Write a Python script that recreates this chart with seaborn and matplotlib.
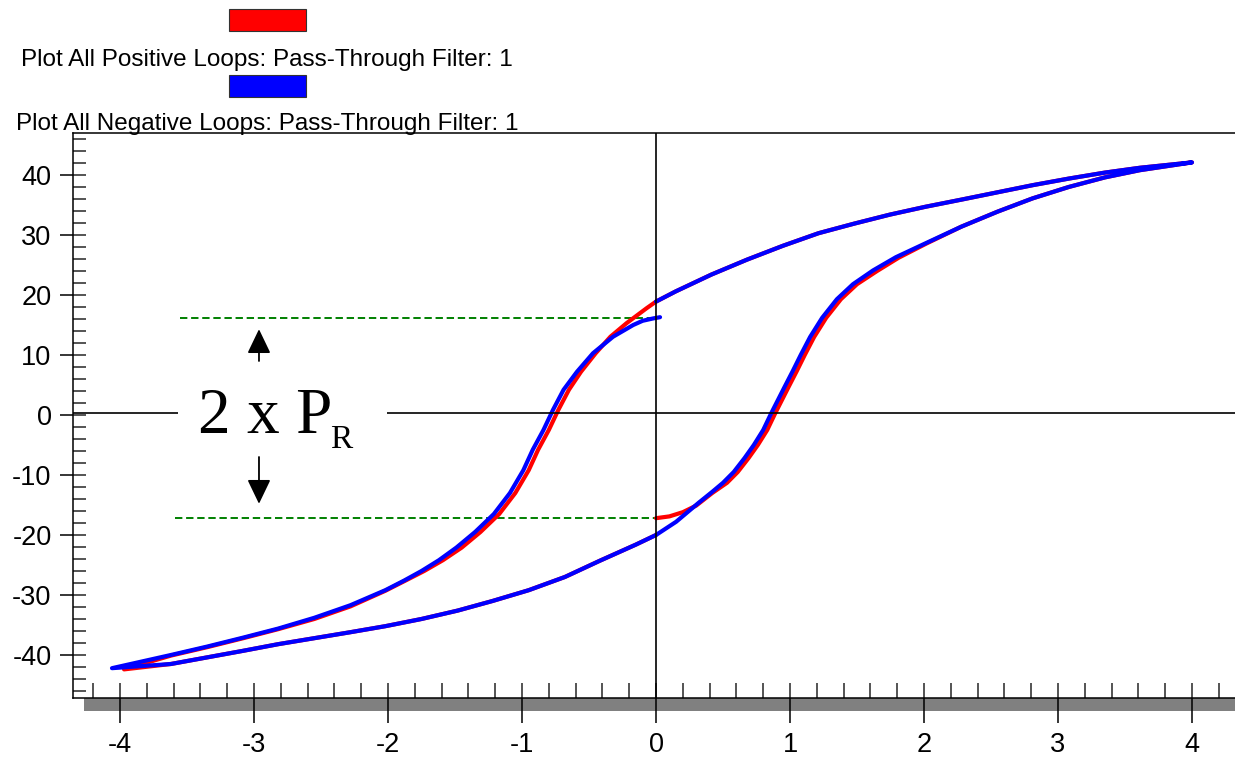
import matplotlib
matplotlib.use("Agg")
import matplotlib.pyplot as plt
from matplotlib.patches import Rectangle
from matplotlib.ticker import FixedLocator, MultipleLocator
import pandas as pd
import seaborn as sns

# ---- hysteresis branches: field E (V) vs polarization P (uC/cm^2) ----
# upper (descending) branch from +Emax back to E = 0, shared by both loops
upper_e = [4.0, 3.61, 3.35, 3.08, 2.81, 2.545, 2.28, 2.01, 1.746, 1.48, 1.213, 0.947, 0.68, 0.413, 0.147, 0.0]
upper_p = [42.1, 41.2, 40.4, 39.4, 38.3, 37.1, 35.9, 34.7, 33.4, 31.9, 30.3, 28.2, 25.9, 23.4, 20.6, 18.9]

# lower-left (ascending) branch from -Emax up to E = 0, shared by both loops
lowleft_e = [-4.06, -3.62, -3.35, -3.08, -2.82, -2.55, -2.28, -2.02, -1.75, -1.48, -1.22, -0.95, -0.68, -0.42, -0.15, 0.0]
lowleft_p = [-42.2, -41.5, -40.4, -39.3, -38.2, -37.2, -36.2, -35.2, -34.0, -32.6, -31.0, -29.2, -27.0, -24.3, -21.6, -20.0]

# positive loop: rising from the negative remanent state
pos_rise_e = [0.0, 0.10, 0.20, 0.30, 0.42, 0.53, 0.61, 0.69, 0.76, 0.83, 0.89, 0.94, 0.99, 1.05, 1.11, 1.18,
              1.27, 1.38, 1.50, 1.65, 1.81, 2.02, 2.28, 2.55, 2.81, 3.08, 3.35, 3.61, 4.0]
pos_rise_p = [-17.2, -16.9, -16.2, -15.1, -13.0, -11.3, -9.5, -7.2, -5.0, -2.5, 0.3, 2.5, 4.7, 7.3, 10.0, 13.0,
              16.2, 19.3, 21.8, 24.0, 26.2, 28.6, 31.4, 33.9, 36.1, 38.0, 39.6, 40.8, 42.1]
# positive loop: falling part past E = 0 down to -Emax
pos_fall_e = [-0.07, -0.22, -0.34, -0.45, -0.56, -0.65, -0.73, -0.80, -0.88, -0.95, -1.05, -1.17, -1.31, -1.45,
              -1.59, -1.73, -1.87, -2.02, -2.28, -2.55, -2.82, -3.08, -3.35, -3.62, -3.97]
pos_fall_p = [17.8, 15.3, 13.05, 10.3, 7.2, 4.2, 0.8, -2.5, -5.8, -9.2, -13.0, -16.5, -19.5, -22.1,
              -24.2, -26.0, -27.6, -29.3, -31.9, -34.0, -35.7, -37.2, -38.7, -40.1, -42.4]

# negative loop: falling from the positive remanent state
neg_fall_e = [0.03, -0.02, -0.10, -0.17, -0.32, -0.47, -0.59, -0.69, -0.77, -0.84, -0.92, -0.99, -1.09, -1.21,
              -1.35, -1.49, -1.62, -1.75, -1.88, -2.02, -2.28, -2.55, -2.82, -3.08, -3.35, -3.62, -4.06]
neg_fall_p = [16.3, 16.1, 15.7, 15.0, 13.05, 10.3, 7.2, 4.2, 0.8, -2.5, -5.8, -9.2, -13.0, -16.5,
              -19.5, -22.1, -24.2, -26.0, -27.6, -29.2, -31.7, -33.8, -35.6, -37.1, -38.6, -40.0, -42.2]
# negative loop: rising part past E = 0 up to +Emax
neg_rise_e = [0.15, 0.32, 0.42, 0.50, 0.58, 0.66, 0.73, 0.80, 0.86, 0.91, 0.96, 1.02, 1.08, 1.15, 1.24, 1.35,
              1.47, 1.62, 1.79, 2.01, 2.28, 2.55, 2.81, 3.08, 3.35, 3.61, 4.0]
neg_rise_p = [-17.8, -14.6, -12.8, -11.3, -9.5, -7.2, -5.0, -2.5, 0.3, 2.5, 4.7, 7.3, 10.0, 13.0, 16.2, 19.3,
              21.8, 24.1, 26.3, 28.6, 31.4, 33.9, 36.1, 38.0, 39.6, 40.8, 42.1]

# remanent polarization levels (+Pr / -Pr)
pr_levels = [16.2, -17.1]
pr_start = [-3.55, -3.59]

loop_names = ["Positive", "Negative"]
loop_colors = ["#ff0000", "#0000ff"]
legend_labels = ["Plot All Positive Loops: Pass-Through Filter: 1",
                 "Plot All Negative Loops: Pass-Through Filter: 1"]

x_ticks = [-4, -3, -2, -1, 0, 1, 2, 3, 4]
x_tick_labels = ["-4", "-3", "-2", "-1", "0", "1", "2", "3", "4"]
y_ticks = [-40, -30, -20, -10, 0, 10, 20, 30, 40]
y_tick_labels = ["-40", "-30", "-20", "-10", "0", "10", "20", "30", "40"]

# ---- assemble the two loops in drawing order ----
pos_e = pos_rise_e + upper_e[1:] + pos_fall_e + lowleft_e[1:]
pos_p = pos_rise_p + upper_p[1:] + pos_fall_p + lowleft_p[1:]
neg_e = neg_fall_e + lowleft_e[1:] + neg_rise_e + upper_e[1:]
neg_p = neg_fall_p + lowleft_p[1:] + neg_rise_p + upper_p[1:]

df = pd.DataFrame({
    "E": pos_e + neg_e,
    "P": pos_p + neg_p,
    "loop": [loop_names[0]] * len(pos_e) + [loop_names[1]] * len(neg_e),
})

sns.set_style("white")
plt.rcParams["font.family"] = ["Liberation Sans", "DejaVu Sans"]
plt.rcParams["axes.unicode_minus"] = False
plt.rcParams["lines.scale_dashes"] = False

W, H = 1235, 760
fig = plt.figure(figsize=(W / 100, H / 100), dpi=100)
fig.patch.set_facecolor("white")
ax = fig.add_axes([73 / W, 62 / H, (W - 73) / W, 565 / H])

sns.lineplot(data=df, x="E", y="P", hue="loop", hue_order=loop_names, palette=loop_colors,
             sort=False, estimator=None, lw=3.0, legend=False, ax=ax, zorder=3)
for line in ax.get_lines():
    line.set_solid_joinstyle("round")

ax.set_xlim(-4.351, 4.321)
ax.set_ylim(-47.17, 47.0)
ax.set_xlabel("")
ax.set_ylabel("")

# frame
for side in ("left", "top", "bottom"):
    ax.spines[side].set_visible(True)
    ax.spines[side].set_color("black")
    ax.spines[side].set_linewidth(1.1)
ax.spines["right"].set_visible(False)

# ticks
ax.xaxis.set_major_locator(FixedLocator(x_ticks))
ax.set_xticklabels(x_tick_labels)
ax.xaxis.set_minor_locator(MultipleLocator(0.2))
ax.yaxis.set_major_locator(FixedLocator(y_ticks))
ax.set_yticklabels(y_tick_labels)
ax.yaxis.set_minor_locator(MultipleLocator(2))
ax.xaxis.remove_overlapping_locs = False
ax.yaxis.remove_overlapping_locs = False
ax.tick_params(axis="x", which="major", direction="out", length=18, width=1.1, pad=6.5,
               labelsize=19.5, colors="black", bottom=True, top=False)
ax.tick_params(axis="x", which="minor", direction="in", length=11, width=1.1, bottom=True, top=False)
ax.tick_params(axis="y", which="major", direction="out", length=9.4, width=1.1, pad=6,
               labelsize=19.5, colors="black", left=True, right=False)
ax.tick_params(axis="y", which="minor", direction="in", length=9.4, width=1.1, left=True, right=False)

# grey base bar under the x axis
fig.patches.append(Rectangle((84 / W, (H - 711) / H), (W - 84) / W, 13 / H, transform=fig.transFigure,
                             facecolor="#808080", edgecolor="none", zorder=-1))

# origin cross-hair
ax.axhline(0.4, color="black", lw=1.2, zorder=4)
ax.axvline(0, color="black", lw=1.2, zorder=4)

# remanent polarization guides
for lvl, x0 in zip(pr_levels, pr_start):
    ax.plot([x0, 0], [lvl, lvl], color="#008000", lw=1.4, ls=(0, (5.3, 2.7)), zorder=2)

# 2 x Pr annotation
ax.add_patch(Rectangle((-3.567, -6.5), 1.56, 13.0, facecolor="white", edgecolor="none", zorder=5))
ax.text(-3.418, -3.0, "2 x P", fontfamily="Liberation Serif", fontsize=47, ha="left", va="baseline",
        color="black", zorder=6)
ax.text(-2.433, -5.5, "R", fontfamily="Liberation Serif", fontsize=24, ha="left", va="baseline",
        color="black", zorder=6)
arrow_style = dict(arrowstyle="-|>,head_length=0.75,head_width=0.36", color="black", lw=1.3,
                   shrinkA=0, shrinkB=0, mutation_scale=20)
ax.annotate("", xy=(-2.963, 14.3), xytext=(-2.963, 9.0), arrowprops=arrow_style, zorder=6)
ax.annotate("", xy=(-2.963, -14.8), xytext=(-2.963, -7.0), arrowprops=arrow_style, zorder=6)

# legend: colour swatch above each caption
swatch_tops = [9, 75]
caption_baselines = [66, 130]
for color, label, top, base in zip(loop_colors, legend_labels, swatch_tops, caption_baselines):
    fig.patches.append(Rectangle((229 / W, (H - top - 22) / H), 77 / W, 22 / H, transform=fig.transFigure,
                                 facecolor=color, edgecolor="#333333", lw=0.8))
    fig.text(267 / W, (H - base) / H, label, ha="center", va="baseline", fontsize=17.5,
             family=["Liberation Sans", "DejaVu Sans"], color="black")

fig.savefig("out.png", dpi=100)
